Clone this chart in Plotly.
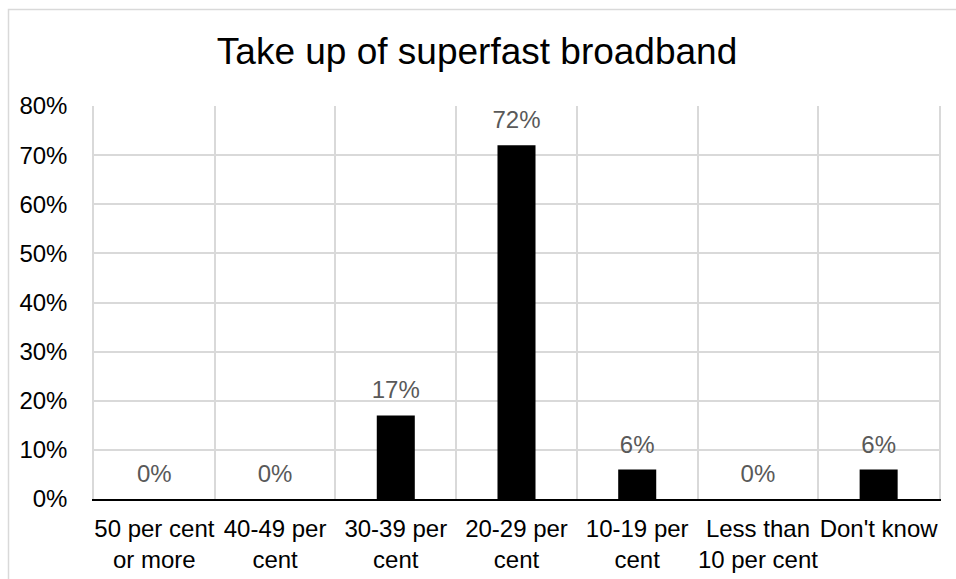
import plotly.graph_objects as go

categories = ["50 per cent<br>or more", "40-49 per<br>cent", "30-39 per<br>cent",
              "20-29 per<br>cent", "10-19 per<br>cent", "Less than<br>10 per cent",
              "Don't know"]
values = [0.0, 0.0, 0.17, 0.72, 0.06, 0.0, 0.06]
labels = ["0%", "0%", "17%", "72%", "6%", "0%", "6%"]
y_ticks = [0, 0.1, 0.2, 0.3, 0.4, 0.5, 0.6, 0.7, 0.8]
title_text = "Take up of superfast broadband"

FONT = "Arial, 'Liberation Sans', sans-serif"
W, H = 956, 579
L, R, T, B = 94, 17, 106, 80
pw, ph = W - L - R, H - T - B

fig = go.Figure()
fig.add_trace(go.Bar(x=categories, y=values, marker=dict(color="#000000", line=dict(width=0)),
                     hoverinfo="skip", showlegend=False))
fig.add_trace(go.Scatter(x=categories, y=values, mode="markers+text", text=labels,
                         textposition="top center",
                         textfont=dict(family=FONT, size=24, color="#595959"),
                         marker=dict(size=16, color="rgba(0,0,0,0)"),
                         hoverinfo="skip", showlegend=False, cliponaxis=False))

# outer chart border (extends beyond the visible window at right and bottom)
x0 = (8.5 - L) / pw
y1 = (H - B - 9.5) / ph
fig.add_shape(type="rect", xref="paper", yref="paper", x0=x0, x1=1.2, y0=-0.6, y1=y1,
              line=dict(color="#d9d9d9", width=1.5), fillcolor="rgba(0,0,0,0)", layer="below")

fig.update_layout(
    width=W, height=H,
    margin=dict(l=L, r=R, t=T, b=B, pad=0, autoexpand=False),
    paper_bgcolor="white", plot_bgcolor="white",
    bargap=0.685,
    font=dict(family=FONT, size=24, color="#000000"),
    title=dict(text=title_text, font=dict(family=FONT, size=37, color="#000000"),
               x=0.499, xref="container", xanchor="center",
               y=1 - 38 / H, yref="container", yanchor="top"),
    xaxis=dict(type="category", tickson="boundaries", showgrid=True, gridcolor="#d9d9d9",
               gridwidth=1.5, ticks="", showline=True, linecolor="#000000", linewidth=1.5,
               tickangle=0, automargin=False,
               tickfont=dict(family=FONT, size=24, color="#000000"), ticklabelstandoff=7,
               range=[-0.5, 6.5], fixedrange=True),
    yaxis=dict(range=[0, 0.8], tickvals=y_ticks, tickformat=".0%", showgrid=True,
               gridcolor="#d9d9d9", gridwidth=1.5, zeroline=False, ticks="",
               showline=True, linecolor="#d9d9d9", linewidth=1.5, mirror=True,
               automargin=False,
               tickfont=dict(family=FONT, size=24, color="#000000"),
               ticklabelstandoff=20, fixedrange=True),
)

fig.write_html("out.html")
